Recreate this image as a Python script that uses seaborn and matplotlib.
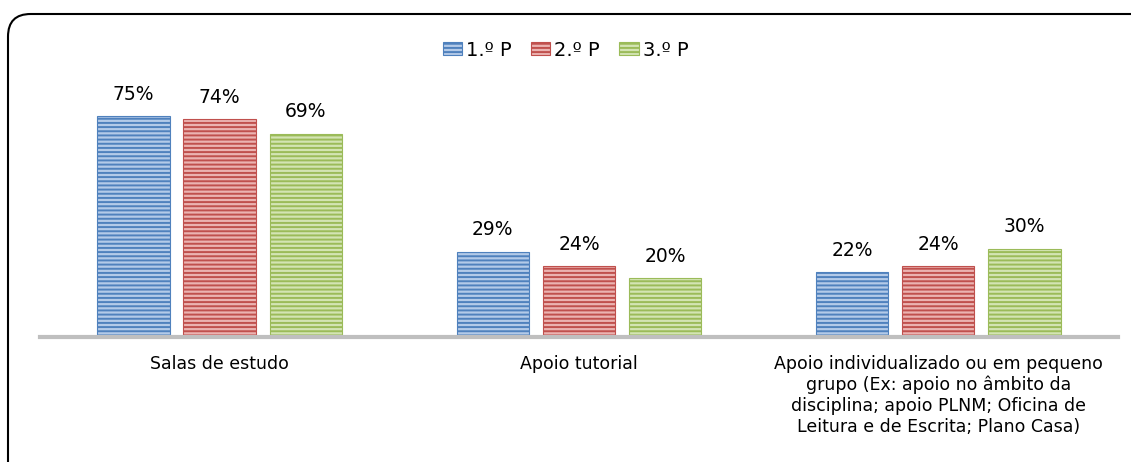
import pandas as pd
import matplotlib.pyplot as plt
import seaborn as sns
from matplotlib.patches import FancyBboxPatch

# data
categorias = ['Salas de estudo',
              'Apoio tutorial',
              'Apoio individualizado ou em pequeno\ngrupo (Ex: apoio no âmbito da\ndisciplina; apoio PLNM; Oficina de\nLeitura e de Escrita; Plano Casa)']
periodos = ['1.º P', '2.º P', '3.º P']
p1 = [75, 29, 22]
p2 = [74, 24, 24]
p3 = [69, 20, 30]

cores = ['#4F81BD', '#C0504D', '#9BBB59']
cores_claras = ['#B3CAE8', '#EBB3B1', '#D3E4B3']

df = pd.DataFrame({
    'Categoria': categorias * 3,
    'Periodo': [periodos[0]] * 3 + [periodos[1]] * 3 + [periodos[2]] * 3,
    'Valor': p1 + p2 + p3,
})

sns.set_style('white')
plt.rcParams['font.family'] = ['DejaVu Sans']
plt.rcParams['hatch.linewidth'] = 1.4

fig = plt.figure(figsize=(11.31, 4.62), dpi=100)
ax = fig.add_axes([0.0354, 0.2706, 0.953, 0.5737])

sns.barplot(data=df, x='Categoria', y='Valor', hue='Periodo', hue_order=periodos,
            palette=cores, width=0.72, gap=0.16, ax=ax, legend=False)

# striped look
for cont, base, claro in zip(ax.containers, cores, cores_claras):
    for bar in cont:
        bar.set_facecolor(claro)
        bar.set_edgecolor(base)
        bar.set_hatch('----')
        bar.set_linewidth(0.8)
    ax.bar_label(cont, labels=[f'{int(v)}%' for v in cont.datavalues],
                 padding=9, fontsize=13.5, color='black')

ax.set_xlim(-0.5, 2.5)
ax.set_ylim(0, 90)
ax.set_xlabel('')
ax.set_ylabel('')
ax.set_yticks([])
for s in ['left', 'right', 'top']:
    ax.spines[s].set_visible(False)
ax.spines['bottom'].set_color('#BFBFBF')
ax.spines['bottom'].set_linewidth(3)
ax.tick_params(axis='x', length=0, pad=13, labelsize=12.5, colors='black')

handles = [cont[0] for cont in ax.containers]
leg = ax.legend(handles, periodos, loc='center', bbox_to_anchor=(0.5, 1 - 50 / 462),
                bbox_transform=fig.transFigure, ncol=3, frameon=False, fontsize=14,
                handlelength=1.0, handleheight=0.6, handletextpad=0.2, columnspacing=1.0)
for t in leg.get_texts():
    t.set_color('black')

# rounded frame around the chart
frame = FancyBboxPatch((8 / 1131, -0.2), 1.2, (462 - 14) / 462 + 0.2,
                       boxstyle='round,pad=0,rounding_size=0.02',
                       transform=fig.transFigure, fill=False, edgecolor='black',
                       linewidth=1.5, mutation_aspect=1131 / 462)
fig.patches.append(frame)

fig.savefig('out.png', dpi=100)
plt.close()
